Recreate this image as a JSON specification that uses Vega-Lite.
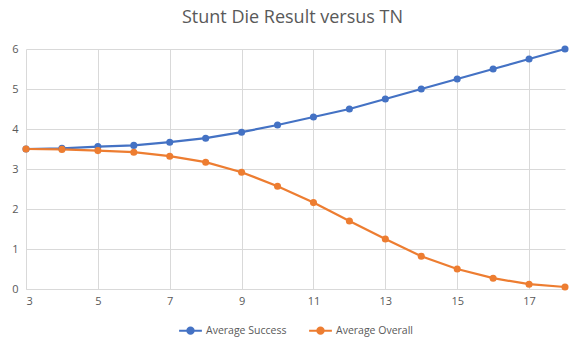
{
  "$schema": "https://vega.github.io/schema/vega-lite/v6.json",
  "width": 539,
  "height": 240,
  "autosize": {"type": "none"},
  "padding": {"left": 26, "top": 49, "right": 22, "bottom": 62},
  "background": "white",
  "title": {"text": "Stunt Die Result versus TN", "fontSize": 18, "font": "Open Sans", "fontWeight": "normal", "color": "#595959", "offset": 16, "dx": -3},
  "config": {"view": {"stroke": null}, "font": "Open Sans"},
  "data": {"values": [
    {"tn": 3, "series": "Average Success", "v": 3.5},
    {"tn": 4, "series": "Average Success", "v": 3.515},
    {"tn": 5, "series": "Average Success", "v": 3.56},
    {"tn": 6, "series": "Average Success", "v": 3.59},
    {"tn": 7, "series": "Average Success", "v": 3.67},
    {"tn": 8, "series": "Average Success", "v": 3.77},
    {"tn": 9, "series": "Average Success", "v": 3.92},
    {"tn": 10, "series": "Average Success", "v": 4.1},
    {"tn": 11, "series": "Average Success", "v": 4.3},
    {"tn": 12, "series": "Average Success", "v": 4.5},
    {"tn": 13, "series": "Average Success", "v": 4.75},
    {"tn": 14, "series": "Average Success", "v": 5.0},
    {"tn": 15, "series": "Average Success", "v": 5.25},
    {"tn": 16, "series": "Average Success", "v": 5.5},
    {"tn": 17, "series": "Average Success", "v": 5.75},
    {"tn": 18, "series": "Average Success", "v": 6.0},
    {"tn": 3, "series": "Average Overall", "v": 3.5},
    {"tn": 4, "series": "Average Overall", "v": 3.49},
    {"tn": 5, "series": "Average Overall", "v": 3.46},
    {"tn": 6, "series": "Average Overall", "v": 3.42},
    {"tn": 7, "series": "Average Overall", "v": 3.32},
    {"tn": 8, "series": "Average Overall", "v": 3.17},
    {"tn": 9, "series": "Average Overall", "v": 2.92},
    {"tn": 10, "series": "Average Overall", "v": 2.57},
    {"tn": 11, "series": "Average Overall", "v": 2.16},
    {"tn": 12, "series": "Average Overall", "v": 1.7},
    {"tn": 13, "series": "Average Overall", "v": 1.25},
    {"tn": 14, "series": "Average Overall", "v": 0.82},
    {"tn": 15, "series": "Average Overall", "v": 0.5},
    {"tn": 16, "series": "Average Overall", "v": 0.27},
    {"tn": 17, "series": "Average Overall", "v": 0.12},
    {"tn": 18, "series": "Average Overall", "v": 0.05}
  ]},
  "encoding": {
    "x": {"field": "tn", "type": "quantitative", "scale": {"domain": [3, 18], "nice": false, "zero": false},
      "axis": {"title": null, "values": [3,5,7,9,11,13,15,17], "grid": true, "gridColor": "#d9d9d9", "domainColor": "#d9d9d9", "ticks": false, "labelColor": "#595959", "labelFontSize": 11, "labelPadding": 6, "labelFont": "Open Sans"}},
    "y": {"field": "v", "type": "quantitative", "scale": {"domain": [0, 6], "nice": false},
      "axis": {"title": null, "values": [0,1,2,3,4,5,6], "grid": true, "gridColor": "#d9d9d9", "domain": false, "ticks": false, "labelColor": "#595959", "labelFontSize": 11, "labelPadding": 8, "labelFont": "Open Sans"}},
    "color": {"field": "series", "type": "nominal", "sort": ["Average Success", "Average Overall"],
      "scale": {"domain": ["Average Success", "Average Overall"], "range": ["#4472C4", "#ED7D31"]},
      "legend": {"title": null, "orient": "none", "legendX": 152, "legendY": 269, "direction": "horizontal", "labelColor": "#595959", "labelFontSize": 10.5, "labelFont": "Open Sans", "columnPadding": 18, "labelOffset": 3,
        "symbolType": "M-1,0H1M-0.28,0A0.28,0.28,0,1,1,0.28,0A0.28,0.28,0,1,1,-0.28,0", "symbolSize": 520, "symbolStrokeWidth": 2}}
  },
  "layer": [
    {"mark": {"type": "line", "strokeWidth": 2.25}},
    {"mark": {"type": "point", "filled": true, "size": 50, "opacity": 1}}
  ]
}
